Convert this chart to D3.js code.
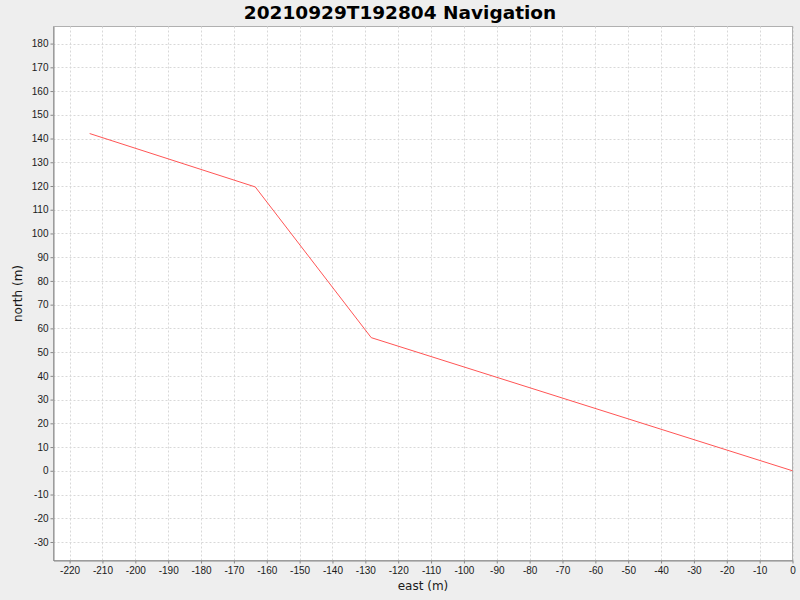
<!DOCTYPE html>
<html lang="en">
    <head>
        <meta charset="utf-8">
        <title>20210929T192804 Navigation</title>
        <style type="text/css">
            body { margin: 0; background: #eeeeee; }
            svg { display: block; font-family: "DejaVu Sans", sans-serif; }
            .grid line { stroke: #d8d8d8; stroke-dasharray: 2,2; }
            .axis path, .axis line { stroke: #888888; }
            .axis text { fill: #1a1a1a; font-size: 10px; }
        </style>
    </head>
    <body>

<script src="https://d3js.org/d3.v7.min.js"></script>
<script>

    var w = 800;
    var h = 600;

    // navigation track (metres)
    var east = [-213.9, -163.5, -128.2, 0];
    var north = [142.1, 119.6, 56.1, 0];

    var xTicks = d3.range(-220, 1, 10);
    var yTicks = d3.range(-30, 181, 10);

    var plotL = 53.5, plotR = 792.5, plotT = 26.5, plotB = 560.5;

    var x = d3.scaleLinear().domain([-224.9, 0]).range([plotL, plotR]);
    var y = d3.scaleLinear().domain([-37.8, 187.2]).range([plotB, plotT]);

    //plain hyphen for negatives, like the original
    var fmt = function(d) { return String(d); };

    var svg = d3.select("body")
            .append("svg")
            .attr("width", w)
            .attr("height", h);

    //plot background
    svg.append("rect")
        .attr("x", plotL)
        .attr("y", plotT)
        .attr("width", plotR - plotL)
        .attr("height", plotB - plotT)
        .attr("fill", "#ffffff")
        .attr("stroke", "#b0b0b0");

    //gridlines
    svg.append("g")
        .attr("class", "grid")
        .selectAll("line")
        .data(xTicks)
        .enter()
        .append("line")
        .attr("x1", function(d) { return Math.round(x(d)) + 0.5; })
        .attr("x2", function(d) { return Math.round(x(d)) + 0.5; })
        .attr("y1", plotT)
        .attr("y2", plotB);

    svg.append("g")
        .attr("class", "grid")
        .selectAll("line")
        .data(yTicks)
        .enter()
        .append("line")
        .attr("x1", plotL)
        .attr("x2", plotR)
        .attr("y1", function(d) { return Math.round(y(d)) + 0.5; })
        .attr("y2", function(d) { return Math.round(y(d)) + 0.5; });

    //axes
    svg.append("g")
        .attr("class", "axis")
        .attr("transform", "translate(0," + plotB + ")")
        .call(d3.axisBottom(x).tickValues(xTicks).tickFormat(fmt).tickSize(3).tickPadding(3).tickSizeOuter(0));

    svg.append("g")
        .attr("class", "axis")
        .attr("transform", "translate(" + plotL + ",0)")
        .call(d3.axisLeft(y).tickValues(yTicks).tickFormat(fmt).tickSize(3).tickPadding(2).tickSizeOuter(0));

    //track line
    var pts = east.map(function(d, i) { return [d, north[i]]; });

    svg.append("path")
        .datum(pts)
        .attr("fill", "none")
        .attr("stroke", "#ff5555")
        .attr("stroke-width", 1)
        .attr("d", d3.line()
            .x(function(d) { return x(d[0]); })
            .y(function(d) { return y(d[1]); }));

    //title and labels
    svg.append("text")
        .attr("x", 400)
        .attr("y", 18.5)
        .attr("text-anchor", "middle")
        .attr("font-size", "18.5px")
        .attr("font-weight", "bold")
        .attr("fill", "#000000")
        .text("20210929T192804 Navigation");

    svg.append("text")
        .attr("x", (plotL + plotR) / 2)
        .attr("y", 590)
        .attr("text-anchor", "middle")
        .attr("font-size", "12px")
        .attr("fill", "#1a1a1a")
        .text("east (m)");

    svg.append("text")
        .attr("transform", "translate(22," + ((plotT + plotB) / 2) + ") rotate(-90)")
        .attr("text-anchor", "middle")
        .attr("font-size", "12px")
        .attr("fill", "#1a1a1a")
        .text("north (m)");

</script>

    </body>
</html>
